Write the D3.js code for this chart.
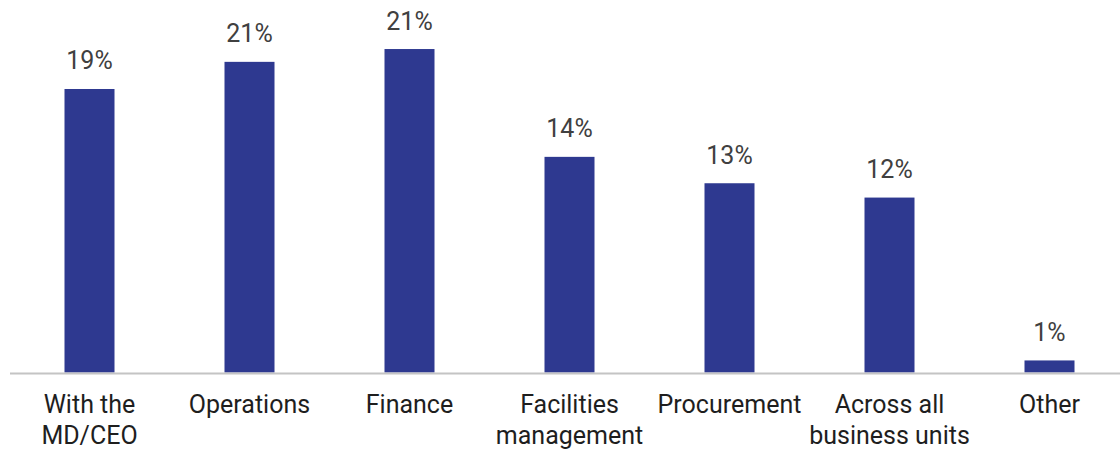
<!DOCTYPE html>
<html>
<head>
<meta charset="utf-8">
<script src="https://cdn.jsdelivr.net/npm/d3@7/dist/d3.min.js"></script>
<style>
  html, body { margin: 0; padding: 0; background: #ffffff; }
  svg { display: block; font-family: Roboto, "Noto Sans", sans-serif; }
</style>
</head>
<body>
<svg id="chart" width="1120" height="450"></svg>
<script>
// Where the function sits in the organisation (share of respondents, %)
const categories = [
  "With the\nMD/CEO",
  "Operations",
  "Finance",
  "Facilities\nmanagement",
  "Procurement",
  "Across all\nbusiness units",
  "Other"
];
const values = [18.8, 20.6, 21.45, 14.3, 12.55, 11.6, 0.8];

const svg = d3.select("#chart");
const W = 1120, H = 450;
const baseY = 372.5;

const x = d3.scaleBand()
  .domain(categories)
  .range([9.5, 1129.5])
  .paddingInner(0.6875)
  .paddingOuter(0.34375);

const y = d3.scaleLinear()
  .domain([0, 24])
  .range([baseY, baseY - 24 * 15.08]);

const fmt = v => d3.format(".0f")(v) + "%";

// bars
svg.append("g")
  .selectAll("rect")
  .data(values)
  .join("rect")
  .attr("x", (d, i) => x(categories[i]))
  .attr("y", d => y(d))
  .attr("width", x.bandwidth())
  .attr("height", d => y(0) - y(d))
  .attr("fill", "#2e3990");

// baseline axis
const axis = d3.axisBottom(x).tickSize(0).tickFormat("");
const axisG = svg.append("g")
  .attr("transform", `translate(0,${baseY + 1})`)
  .call(axis);
axisG.select(".domain")
  .attr("d", `M10,0H${W}`)
  .attr("stroke", "#c4c4c4")
  .attr("stroke-width", 1.8);

// value labels
svg.append("g")
  .selectAll("text")
  .data(values)
  .join("text")
  .attr("x", (d, i) => x(categories[i]) + x.bandwidth() / 2)
  .attr("y", d => y(d) - 19.5)
  .attr("text-anchor", "middle")
  .attr("font-size", 25)
  .attr("fill", "#404040")
  .text(fmt);

// category labels
const catG = svg.append("g");
categories.forEach(c => {
  const t = catG.append("text")
    .attr("x", x(c) + x.bandwidth() / 2)
    .attr("y", 413.3)
    .attr("text-anchor", "middle")
    .attr("font-size", 25)
    .attr("fill", "#1e1e1e");
  c.split("\n").forEach((line, j) => {
    t.append("tspan")
      .attr("x", x(c) + x.bandwidth() / 2)
      .attr("dy", j === 0 ? 0 : 31)
      .text(line);
  });
});
</script>
</body>
</html>
